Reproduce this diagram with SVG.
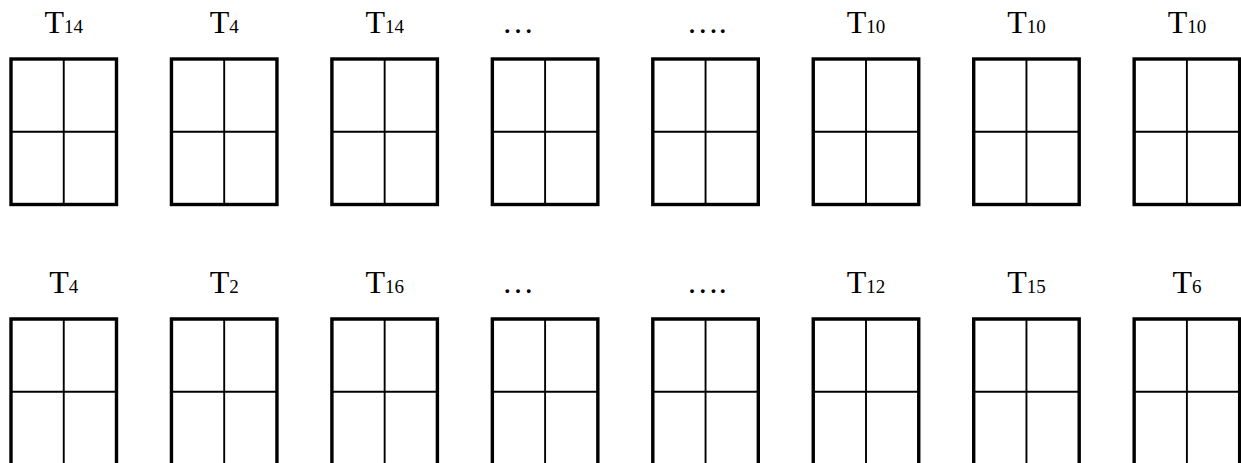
<svg xmlns="http://www.w3.org/2000/svg" width="1241" height="463" viewBox="0 0 1241 463">
<style>
.o{fill:none;stroke:#000;stroke-width:3.4;stroke-linejoin:miter}
.i{fill:none;stroke:#000;stroke-width:1.9}
.t{font-family:"Liberation Serif","Times New Roman",serif;font-size:32px;fill:#000;text-anchor:middle}
.s{font-size:19px}
</style>
<defs>
<g id="boxTop">
<rect class="o" x="0" y="0" width="105.5" height="145.5"/>
<line class="i" x1="52.75" y1="0" x2="52.75" y2="145.5"/>
<line class="i" x1="0" y1="72.75" x2="105.5" y2="72.75"/>
</g>
<g id="boxBot">
<path class="o" d="M0,150 V0 H105.5 V150"/>
<line class="i" x1="52.75" y1="0" x2="52.75" y2="150"/>
<line class="i" x1="0" y1="72.75" x2="105.5" y2="72.75"/>
</g>
</defs>
<rect width="1241" height="463" fill="#fff"/>
<g id="top-row">
<g id="t1"><text class="t" x="63.75" y="32.5">T<tspan class="s">14</tspan></text><use href="#boxTop" x="11" y="59"/></g>
<g id="t2"><text class="t" x="224.2" y="32.5">T<tspan class="s">4</tspan></text><use href="#boxTop" x="171.45" y="59"/></g>
<g id="t3"><text class="t" x="384.65" y="32.5">T<tspan class="s">14</tspan></text><use href="#boxTop" x="331.9" y="59"/></g>
<g id="t4"><text class="t" x="518" y="32.5">…</text><use href="#boxTop" x="492.35" y="59"/></g>
<g id="t5"><text class="t" x="706.7" y="32.5">….</text><use href="#boxTop" x="652.8" y="59"/></g>
<g id="t6"><text class="t" x="866" y="32.5">T<tspan class="s">10</tspan></text><use href="#boxTop" x="813.25" y="59"/></g>
<g id="t7"><text class="t" x="1026.45" y="32.5">T<tspan class="s">10</tspan></text><use href="#boxTop" x="973.7" y="59"/></g>
<g id="t8"><text class="t" x="1186.9" y="32.5">T<tspan class="s">10</tspan></text><use href="#boxTop" x="1134.15" y="59"/></g>
</g>
<g id="bottom-row">
<g id="b1"><text class="t" x="63.75" y="292.5">T<tspan class="s">4</tspan></text><use href="#boxBot" x="11" y="319"/></g>
<g id="b2"><text class="t" x="224.2" y="292.5">T<tspan class="s">2</tspan></text><use href="#boxBot" x="171.45" y="319"/></g>
<g id="b3"><text class="t" x="384.65" y="292.5">T<tspan class="s">16</tspan></text><use href="#boxBot" x="331.9" y="319"/></g>
<g id="b4"><text class="t" x="518" y="292.5">…</text><use href="#boxBot" x="492.35" y="319"/></g>
<g id="b5"><text class="t" x="706.7" y="292.5">….</text><use href="#boxBot" x="652.8" y="319"/></g>
<g id="b6"><text class="t" x="866" y="292.5">T<tspan class="s">12</tspan></text><use href="#boxBot" x="813.25" y="319"/></g>
<g id="b7"><text class="t" x="1026.45" y="292.5">T<tspan class="s">15</tspan></text><use href="#boxBot" x="973.7" y="319"/></g>
<g id="b8"><text class="t" x="1186.9" y="292.5">T<tspan class="s">6</tspan></text><use href="#boxBot" x="1134.15" y="319"/></g>
</g>
<g id="connectors"/>
</svg>
